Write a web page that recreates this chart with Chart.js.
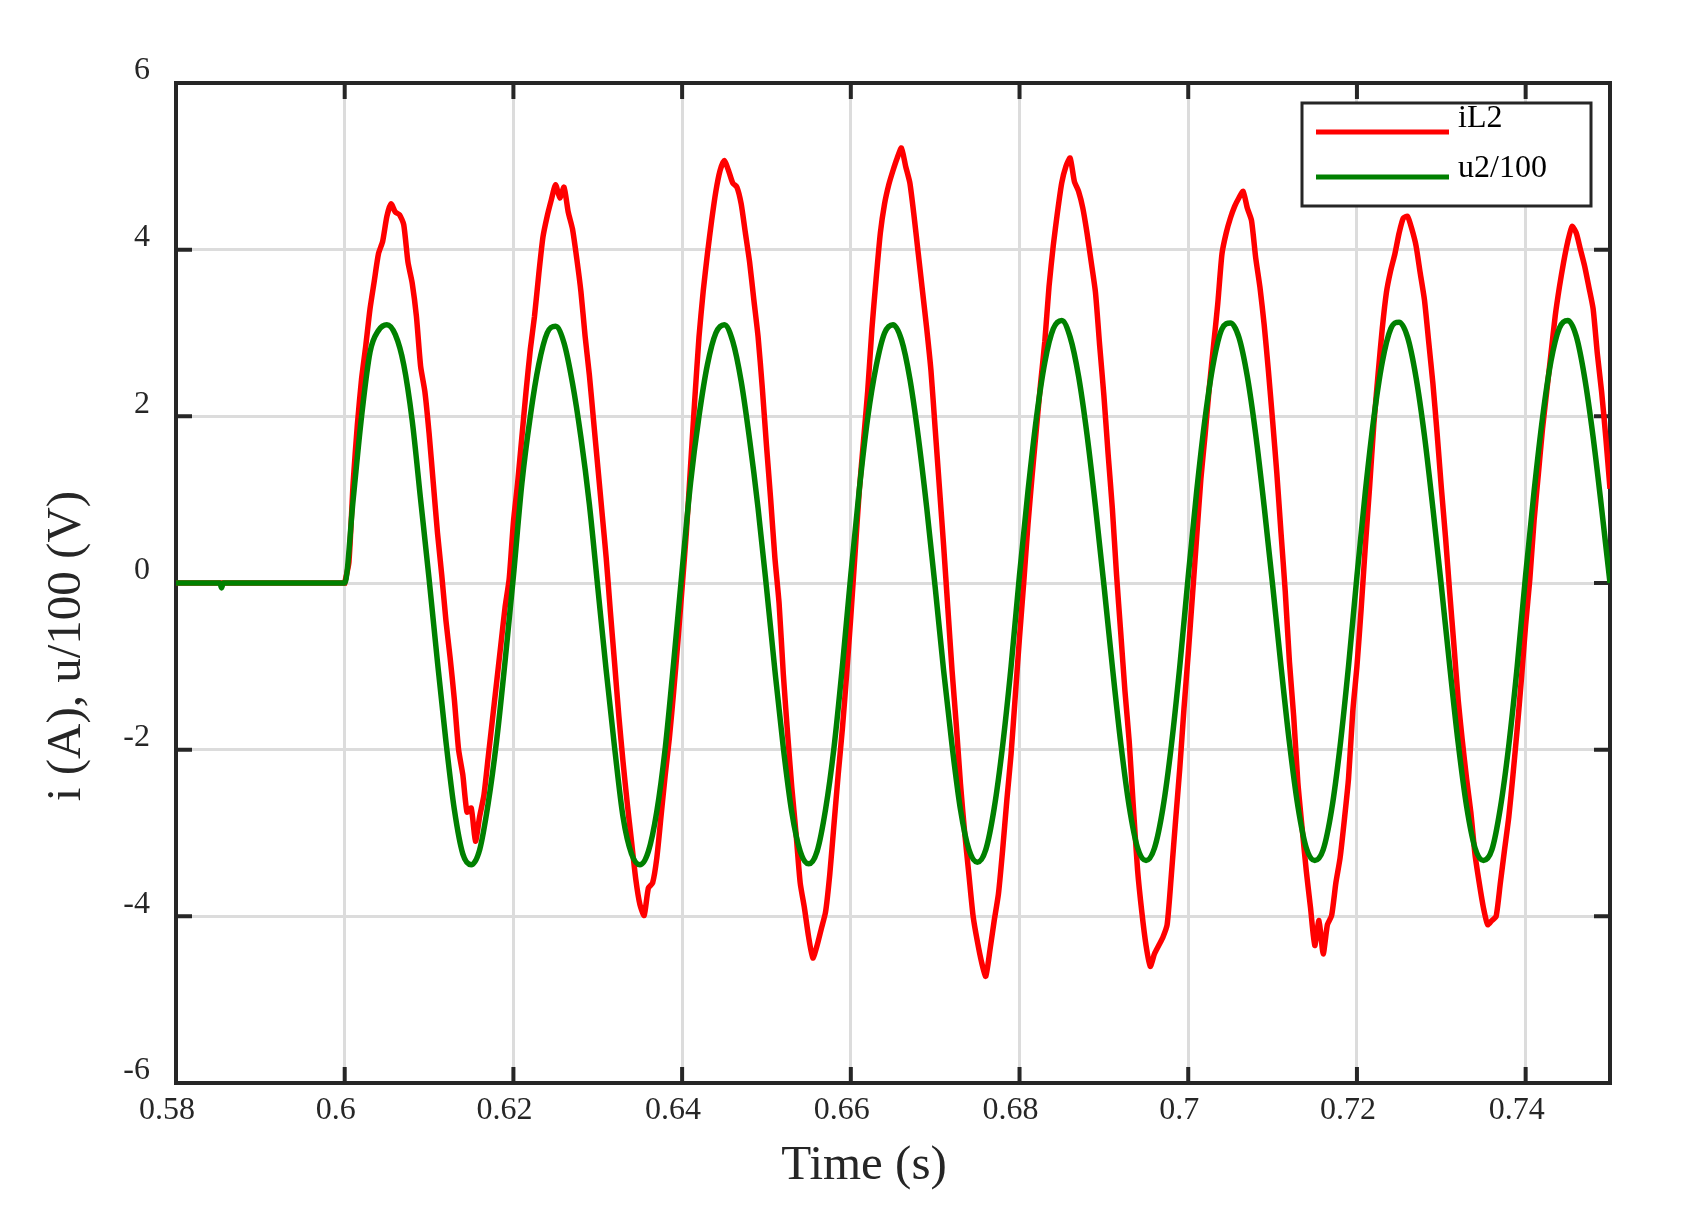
<!DOCTYPE html>
<html>
<head>
<meta charset="utf-8">
<script src="https://cdn.jsdelivr.net/npm/chart.js@4.4.1/dist/chart.umd.min.js"></script>
<style>
  html, body { margin: 0; padding: 0; background: #fff; }
  canvas { display: block; }
</style>
</head>
<body>
<canvas id="scope" width="1691" height="1222"></canvas>
<script>
// --- axis ticks ---
const xTicks = [0.58, 0.6, 0.62, 0.64, 0.66, 0.68, 0.7, 0.72, 0.74];
const xTickLabels = ['0.58', '0.6', '0.62', '0.64', '0.66', '0.68', '0.7', '0.72', '0.74'];
const yTicks = [-6, -4, -2, 0, 2, 4, 6];
const yTickLabels = ['-6', '-4', '-2', '0', '2', '4', '6'];

// --- before the converter starts (both at rest) ---
const preTime = [0.58, 0.5852, 0.5854, 0.5856, 0.6];
const preIL2 = [0, 0, 0, 0, 0];
const preU2 = [0, 0, -0.06, 0, 0];

// --- sampled records from t = 0.6 s ---
const sampleStart = 0.6;
const iL2Step = 0.0005;   // s
const u2Step = 0.001;     // s

// iL2 (A), one row = 5 ms
const iL2 = [
  0, 0.25, 1.2, 1.9, 2.45, 2.85, 3.29, 3.62, 3.95, 4.1,
  4.4, 4.55, 4.45, 4.42, 4.3, 3.85, 3.6, 3.2, 2.6, 2.3,
  1.8, 1.2, 0.6, 0.1, -0.45, -0.9, -1.4, -2.0, -2.3, -2.75,
  -2.7, -3.1, -2.8, -2.55, -2.1, -1.65, -1.2, -0.75, -0.3, 0.05,
  0.73, 1.2, 1.75, 2.3, 2.8, 3.2, 3.7, 4.15, 4.4, 4.6,
  4.78, 4.62, 4.75, 4.45, 4.25, 3.9, 3.5, 2.96, 2.5, 1.95,
  1.4, 0.85, 0.3, -0.35, -0.97, -1.6, -2.15, -2.65, -3.1, -3.55,
  -3.86, -3.99, -3.66, -3.6, -3.3, -2.8, -2.3, -1.85, -1.3, -0.7,
  -0.05, 0.6, 1.4, 2.2, 2.95, 3.5, 3.95, 4.35, 4.7, 4.95,
  5.07, 4.95, 4.8, 4.75, 4.55, 4.2, 3.85, 3.4, 2.96, 2.35,
  1.65, 1.0, 0.3, -0.25, -1.1, -1.8, -2.45, -3.0, -3.6, -3.9,
  -4.25, -4.5, -4.35, -4.15, -3.95, -3.5, -2.9, -2.3, -1.75, -1.1,
  -0.4, 0.35, 1.1, 1.7, 2.3, 3.05, 3.65, 4.2, 4.55, 4.78,
  4.95, 5.1, 5.22, 5.0, 4.8, 4.4, 3.95, 3.5, 3.05, 2.55,
  1.85, 1.15, 0.45, -0.3, -1.05, -1.7, -2.41, -3.0, -3.5, -4.0,
  -4.3, -4.55, -4.72, -4.4, -4.05, -3.73, -3.2, -2.6, -2.05, -1.35,
  -0.65, 0.01, 0.7, 1.3, 1.85, 2.4, 2.9, 3.56, 4.05, 4.45,
  4.8, 5.0, 5.1, 4.82, 4.7, 4.5, 4.2, 3.85, 3.49, 2.85,
  2.25, 1.55, 0.9, 0.1, -0.6, -1.3, -1.9, -2.7, -3.45, -3.95,
  -4.35, -4.6, -4.45, -4.35, -4.25, -4.1, -3.5, -2.85, -2.22, -1.5,
  -0.85, -0.15, 0.55, 1.25, 1.78, 2.35, 2.85, 3.35, 3.95, 4.2,
  4.38, 4.52, 4.62, 4.7, 4.5, 4.35, 3.9, 3.55, 3.1, 2.55,
  1.95, 1.32, 0.6, -0.1, -0.95, -1.6, -2.4, -2.94, -3.46, -3.9,
  -4.35, -4.05, -4.45, -4.1, -3.99, -3.6, -3.3, -2.85, -2.35, -1.55,
  -1.0, -0.31, 0.45, 1.15, 1.9, 2.5, 3.05, 3.49, 3.75, 3.95,
  4.2, 4.38, 4.4, 4.25, 4.05, 3.72, 3.4, 2.9, 2.4, 1.8,
  1.15, 0.55, -0.12, -0.75, -1.4, -1.9, -2.35, -2.75, -3.26, -3.6,
  -3.9, -4.1, -4.05, -4.0, -3.6, -3.2, -2.81, -2.3, -1.75, -1.15,
  -0.5, 0.05, 0.75, 1.3, 1.85, 2.3, 2.75, 3.2, 3.55, 3.85,
  4.1, 4.28, 4.2, 4.0, 3.8, 3.55, 3.29, 2.75, 2.3, 1.75,
  1.13
];

// u2/100 (V), one row = 20 ms
const u2 = [
  0, 1.0, 2.0, 2.77, 3.03, 3.1, 2.98, 2.62, 1.95, 1.0, 0.05, -0.95, -1.9, -2.72, -3.25, -3.38, -3.2, -2.65, -1.9, -0.95,
  0.08, 1.19, 2.0, 2.62, 3.0, 3.08, 2.88, 2.4, 1.75, 0.95, -0.05, -1.05, -1.98, -2.81, -3.25, -3.38, -3.22, -2.74, -1.98, -0.95,
  0.15, 1.2, 2.0, 2.62, 3.0, 3.1, 2.9, 2.42, 1.72, 0.9, -0.05, -1.05, -1.98, -2.75, -3.22, -3.37, -3.22, -2.72, -1.98, -1.0,
  0.1, 1.12, 1.98, 2.6, 3.0, 3.1, 2.92, 2.45, 1.75, 0.9, -0.05, -1.05, -1.95, -2.72, -3.2, -3.35, -3.2, -2.7, -1.95, -1.0,
  0.1, 1.1, 1.98, 2.65, 3.05, 3.15, 2.95, 2.48, 1.78, 0.92, -0.02, -1.0, -1.92, -2.68, -3.18, -3.33, -3.18, -2.7, -1.95, -1.0,
  0.08, 1.1, 1.98, 2.65, 3.05, 3.12, 2.95, 2.48, 1.78, 0.92, -0.02, -1.0, -1.92, -2.68, -3.18, -3.33, -3.2, -2.72, -1.96, -1.0,
  0.08, 1.1, 1.98, 2.65, 3.05, 3.13, 2.95, 2.47, 1.77, 0.9, -0.03, -1.0, -1.92, -2.68, -3.18, -3.33, -3.2, -2.7, -1.95, -1.0,
  0.1, 1.1, 1.98, 2.66, 3.06, 3.15, 2.96, 2.46, 1.75, 0.9, 0.0
];

const FONT = 'Liberation Serif';
const INK = '#262626';
const PLOT = { left: 176, top: 83, right: 1610, bottom: 1083 };

function toPoints(times, values) {
    return values.map((v, i) => ({ x: times[i], y: v }));
}
function sampled(values, step) {
    return values.map((v, i) => ({ x: sampleStart + i * step, y: v }));
}

const iL2Points = toPoints(preTime, preIL2).concat(sampled(iL2, iL2Step));
const u2Points = toPoints(preTime, preU2).concat(sampled(u2, u2Step));

// --- axes box + inward ticks (under the traces), titles, legend ---
const scopeFrame = {
    id: 'scopeFrame',
    beforeDatasetsDraw(chart) {
        const { ctx, chartArea: a, scales } = chart;
        ctx.save();
        ctx.strokeStyle = INK;
        ctx.lineWidth = 4;
        ctx.beginPath();
        xTicks.forEach(v => {
            const px = scales.x.getPixelForValue(v);
            ctx.moveTo(px, a.bottom); ctx.lineTo(px, a.bottom - 16);
            ctx.moveTo(px, a.top); ctx.lineTo(px, a.top + 16);
        });
        yTicks.forEach(v => {
            const py = scales.y.getPixelForValue(v);
            ctx.moveTo(a.left, py); ctx.lineTo(a.left + 16, py);
            ctx.moveTo(a.right, py); ctx.lineTo(a.right - 16, py);
        });
        ctx.stroke();
        ctx.strokeRect(a.left, a.top, a.right - a.left, a.bottom - a.top);
        ctx.restore();
    },
    afterDraw(chart) {
        const { ctx } = chart;
        ctx.save();
        ctx.fillStyle = INK;
        ctx.font = `49px "${FONT}"`;
        ctx.textAlign = 'center';
        ctx.textBaseline = 'alphabetic';
        ctx.fillText('Time (s)', 864, 1179);
        ctx.translate(80, 646);
        ctx.rotate(-Math.PI / 2);
        ctx.fillText('i (A), u/100 (V)', 0, 0);
        ctx.restore();

        // legend
        ctx.save();
        ctx.fillStyle = '#fff';
        ctx.fillRect(1302, 103, 289, 103);
        ctx.strokeStyle = INK;
        ctx.lineWidth = 3;
        ctx.strokeRect(1302, 103, 289, 103);
        const rows = [{ y: 132, ty: 127 }, { y: 177, ty: 177 }];
        chart.data.datasets.forEach((ds, i) => {
            ctx.strokeStyle = ds.borderColor;
            ctx.lineWidth = 5;
            ctx.beginPath();
            ctx.moveTo(1316, rows[i].y); ctx.lineTo(1449, rows[i].y);
            ctx.stroke();
            ctx.fillStyle = '#000';
            ctx.font = `32px "${FONT}"`;
            ctx.textAlign = 'left';
            ctx.fillText(ds.label, 1458, rows[i].ty);
        });
        ctx.restore();
    }
};

new Chart(document.getElementById('scope'), {
    type: 'line',
    data: {
        datasets: [
            { label: 'iL2', data: iL2Points, borderColor: '#ff0000', borderWidth: 5.5, pointRadius: 0, tension: 0.2, order: 2 },
            { label: 'u2/100', data: u2Points, borderColor: '#008000', borderWidth: 5.5, pointRadius: 0, cubicInterpolationMode: 'monotone', order: 1 }
        ]
    },
    options: {
        responsive: false,
        devicePixelRatio: 1,
        animation: false,
        parsing: false,
        layout: { padding: { left: 0, top: PLOT.top, right: 1691 - PLOT.right, bottom: 0 } },
        plugins: { legend: { display: false }, tooltip: { enabled: false } },
        scales: {
            x: {
                type: 'linear',
                min: 0.58, max: 0.75,
                afterBuildTicks: s => { s.ticks = xTicks.map(v => ({ value: v })); },
                afterFit: s => { s.height = 1222 - PLOT.bottom; },
                grid: { color: '#dcdcdc', lineWidth: 3, drawTicks: false },
                border: { display: false },
                ticks: {
                    font: { family: FONT, size: 32 }, color: INK,
                    padding: 8, labelOffset: -9, maxRotation: 0, autoSkip: false,
                    callback: (v, i) => xTickLabels[i]
                }
            },
            y: {
                type: 'linear',
                min: -6, max: 6,
                afterBuildTicks: s => { s.ticks = yTicks.map(v => ({ value: v })); },
                afterFit: s => { s.width = PLOT.left; },
                grid: { color: '#dcdcdc', lineWidth: 3, drawTicks: false },
                border: { display: false },
                ticks: {
                    font: { family: FONT, size: 32 }, color: INK,
                    padding: 26, labelOffset: -12, autoSkip: false,
                    callback: (v, i) => yTickLabels[i]
                }
            }
        }
    },
    plugins: [scopeFrame]
});
</script>
</body>
</html>
